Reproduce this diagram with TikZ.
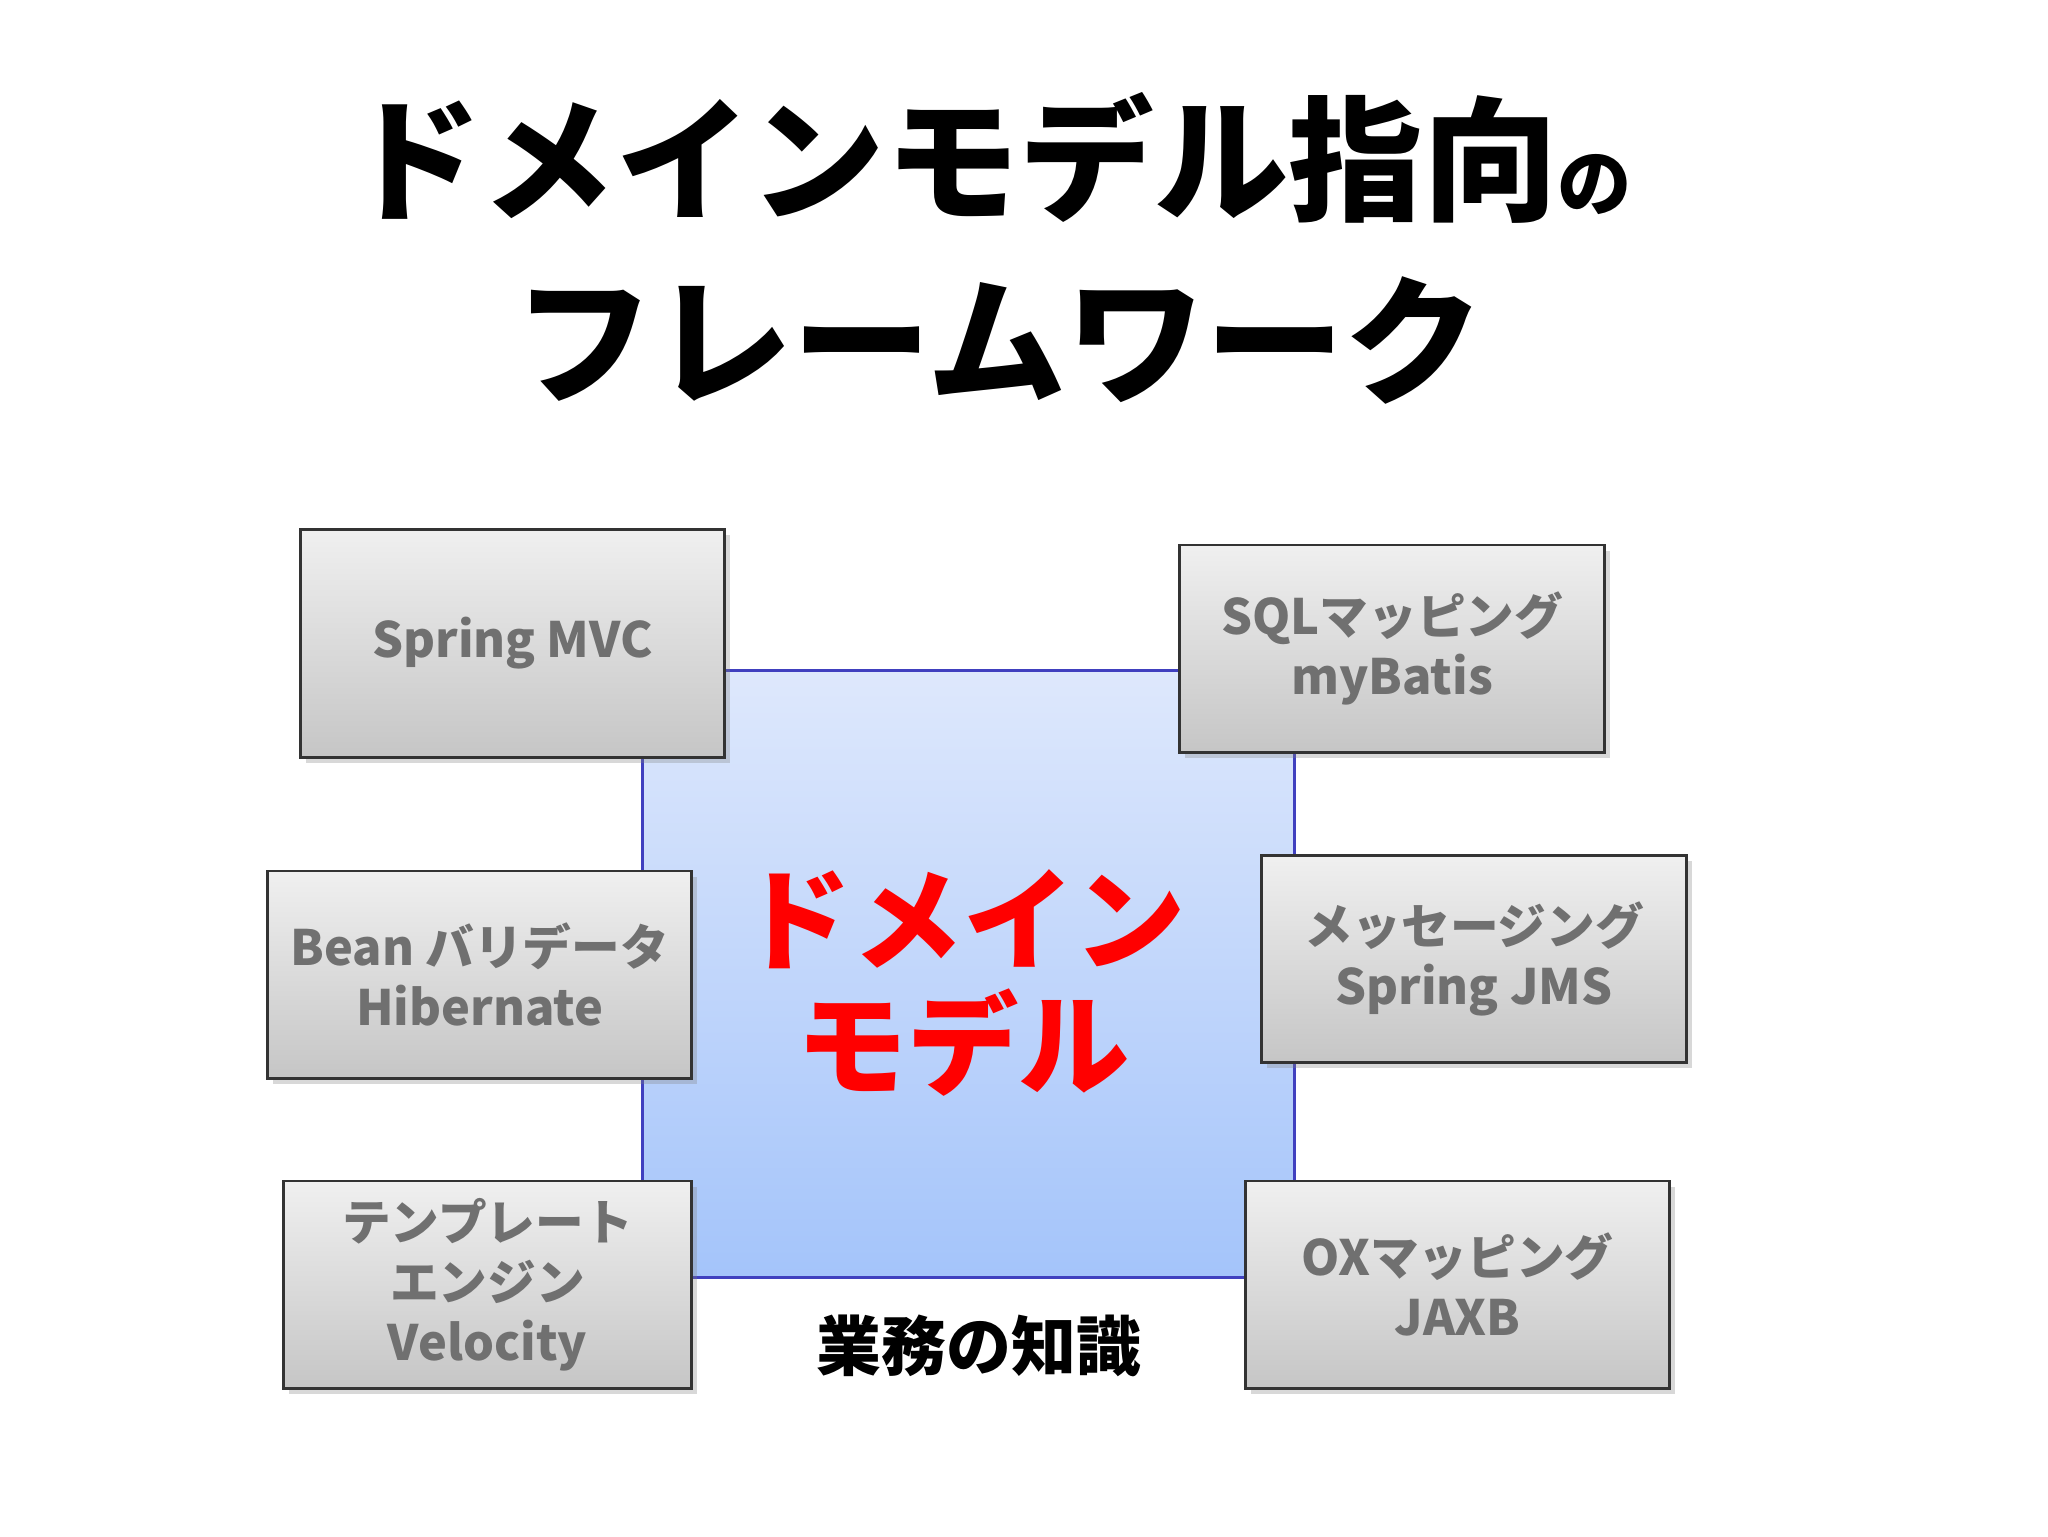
\documentclass[tikz,border=0pt]{standalone}
\usepackage{fontspec}
\setmainfont{Noto Sans CJK JP}
\usetikzlibrary{shadows}
\definecolor{txtgray}{HTML}{707070}
\tikzset{
 fw/.style={draw=black!80,line width=0.6pt,top color=gray!12,bottom color=gray!45,drop shadow={shadow xshift=1.2pt,shadow yshift=-1.2pt,opacity=0.3},align=center,text=txtgray,font=\fontsize{10.5}{13}\selectfont\bfseries,inner sep=0pt},
 core/.style={draw=blue!50!gray,line width=0.5pt,top color={rgb,255:red,222;green,232;blue,252},bottom color={rgb,255:red,164;green,196;blue,250}}
}
\begin{document}
\begin{tikzpicture}[x=0.1mm,y=-0.1mm]
\useasboundingbox (0,0) rectangle (1552,1164);
\fill[white] (0,0) rectangle (1552,1164);
\node (t1) at (750,120) {\fontsize{29}{30}\selectfont\bfseries ドメインモデル指向\fontsize{16}{16}\selectfont の};
\node (t2) at (757,258) {\fontsize{30}{32}\selectfont\bfseries フレームワーク};
\path[core] (487,508) rectangle (981,968);
\node[text=red,font=\fontsize{24}{29}\selectfont\bfseries,align=center] (dm) at (730,745) {ドメイン\\[-2pt]モデル};
\node[font=\fontsize{14}{16}\selectfont\bfseries] (kn) at (742,1020) {業務の知識};
\node[fw,minimum width=321*0.1mm,minimum height=173*0.1mm] (mvc) at (388.5,487.5) {Spring MVC};
\node[fw,minimum width=322*0.1mm,minimum height=157*0.1mm] (sql) at (1055,491.5) {SQLマッピング\\myBatis};
\node[fw,minimum width=321*0.1mm,minimum height=157*0.1mm] (bean) at (363.5,738.5) {Bean バリデータ\\Hibernate};
\node[fw,minimum width=322*0.1mm,minimum height=157*0.1mm] (msg) at (1117,726.5) {メッセージング\\Spring JMS};
\node[fw,minimum width=309*0.1mm,minimum height=157*0.1mm] (tpl) at (369.5,973.5) {テンプレート\\エンジン\\Velocity};
\node[fw,minimum width=321*0.1mm,minimum height=157*0.1mm] (ox) at (1104.5,973.5) {OXマッピング\\JAXB};
\end{tikzpicture}
\end{document}
